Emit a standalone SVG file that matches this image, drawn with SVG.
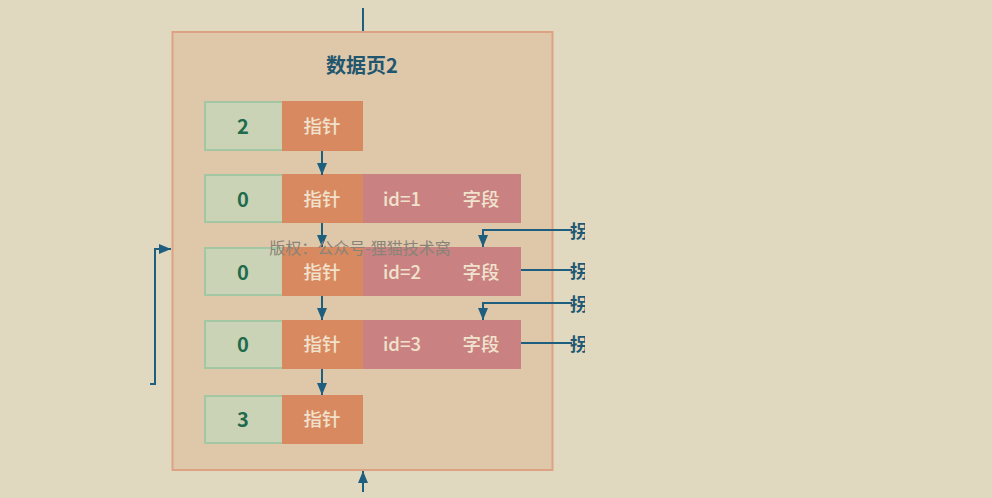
<svg xmlns="http://www.w3.org/2000/svg" width="992" height="498" viewBox="0 0 992 498">
<style>
text{font-family:"Noto Sans CJK SC","Noto Sans",sans-serif;text-anchor:middle;dominant-baseline:central}
.g{fill:#cbd3b7;stroke:#a3c6a3;stroke-width:2}
.o{fill:#d8895f}
.p{fill:#c98281}
.num{font-size:20px;font-weight:bold;fill:#1f6b4c}
.w{font-size:18.5px;fill:#f1e2cd;font-weight:500}
.c{fill:none;stroke:#1e5f7f;stroke-width:2}
.t{font-size:18px;font-weight:bold;fill:#1f5874;text-anchor:start}
</style>
<defs>
<marker id="a" viewBox="0 0 12 10" refX="12" refY="5" markerWidth="12" markerHeight="10" markerUnits="userSpaceOnUse" orient="auto">
<path d="M0,0 L12,5 L0,10 z" fill="#1e5f7f"/>
</marker>
<clipPath id="clip"><rect x="0" y="0" width="585" height="498"/></clipPath>
</defs>
<rect width="992" height="498" fill="#e0d8bf"/>
<g id="page">
<rect x="172.5" y="32" width="380" height="438" fill="#dfc8aa" stroke="#dca283" stroke-width="2"/>
<text x="362" y="64" style="font-size:20px;font-weight:bold;fill:#22566f">数据页2</text>
</g>
<g id="row1">
<rect class="g" x="205" y="102" width="78" height="48"/>
<rect class="o" x="282" y="101" width="81" height="50"/>
<text class="num" x="243" y="125">2</text>
<text class="w" x="322" y="125">指针</text>
</g>
<g id="row2">
<rect class="g" x="205" y="175" width="78" height="47"/>
<rect class="o" x="282" y="174" width="81" height="49"/>
<rect class="p" x="363" y="174" width="158" height="49"/>
<text class="num" x="243" y="198">0</text>
<text class="w" x="322" y="198">指针</text>
<text class="w" x="402" y="198">id=1</text>
<text class="w" x="481" y="198">字段</text>
</g>
<g id="row3">
<rect class="g" x="205" y="248" width="78" height="47"/>
<rect class="o" x="282" y="247" width="81" height="49"/>
<rect class="p" x="363" y="247" width="158" height="49"/>
<text class="num" x="243" y="271">0</text>
<text class="w" x="322" y="271">指针</text>
<text class="w" x="402" y="271">id=2</text>
<text class="w" x="481" y="271">字段</text>
</g>
<g id="row4">
<rect class="g" x="205" y="321" width="78" height="47"/>
<rect class="o" x="282" y="320" width="81" height="49"/>
<rect class="p" x="363" y="320" width="158" height="49"/>
<text class="num" x="243" y="343">0</text>
<text class="w" x="322" y="343">指针</text>
<text class="w" x="402" y="343">id=3</text>
<text class="w" x="481" y="343">字段</text>
</g>
<g id="row5">
<rect class="g" x="205" y="396" width="78" height="47"/>
<rect class="o" x="282" y="395" width="81" height="49"/>
<text class="num" x="243" y="418">3</text>
<text class="w" x="322" y="418">指针</text>
</g>
<g id="connectors">
<line class="c" x1="363" y1="8" x2="363" y2="31"/>
<line class="c" x1="363" y1="492" x2="363" y2="471" marker-end="url(#a)"/>
<line class="c" x1="322" y1="151" x2="322" y2="175" marker-end="url(#a)"/>
<line class="c" x1="322" y1="223" x2="322" y2="247" marker-end="url(#a)"/>
<line class="c" x1="322" y1="296" x2="322" y2="320" marker-end="url(#a)"/>
<line class="c" x1="322" y1="369" x2="322" y2="395" marker-end="url(#a)"/>
<polyline class="c" points="150,384 155,384 155,249 171,249" marker-end="url(#a)"/>
<polyline class="c" points="572,230 483,230 483,247" marker-end="url(#a)"/>
<line class="c" x1="521" y1="270" x2="572" y2="270"/>
<polyline class="c" points="572,303 483,303 483,320" marker-end="url(#a)"/>
<line class="c" x1="521" y1="343" x2="572" y2="343"/>
</g>
<g id="labels" clip-path="url(#clip)">
<text class="t" x="570" y="230">拐</text>
<text class="t" x="570" y="270">拐</text>
<text class="t" x="570" y="303">拐</text>
<text class="t" x="570" y="343">拐</text>
</g>
<text x="360" y="247" style="font-size:16px;fill:#8a8378">版权：公众号-狸猫技术窝</text>
</svg>
